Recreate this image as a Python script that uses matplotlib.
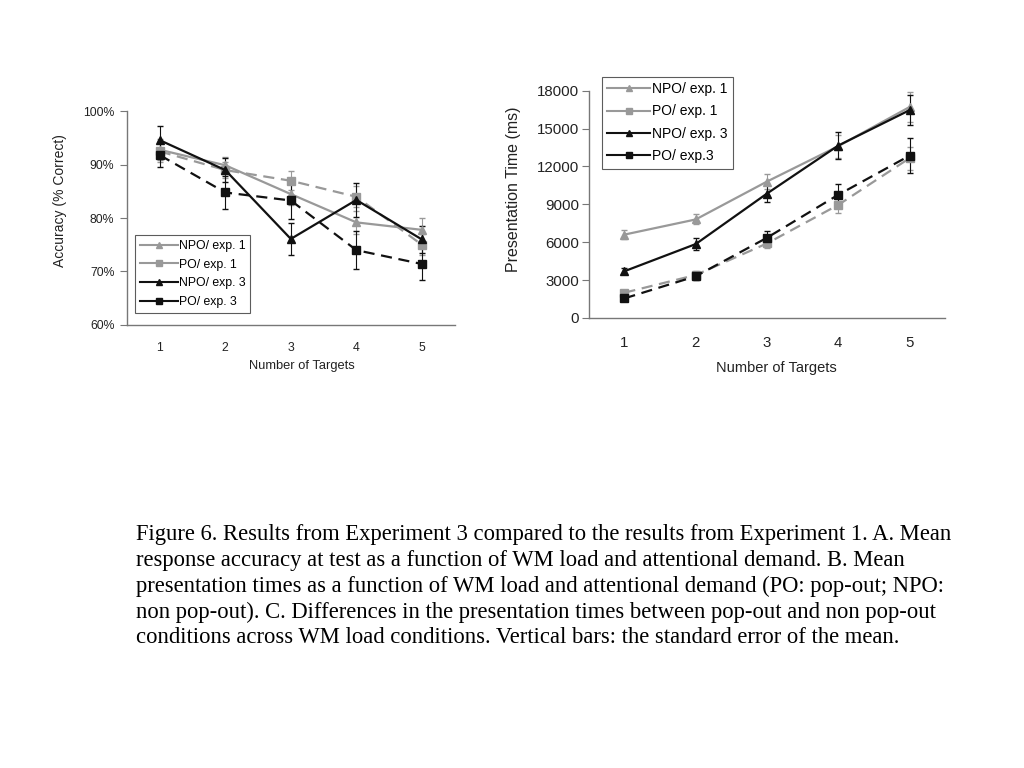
import matplotlib.pyplot as plt
from matplotlib.lines import Line2D
import numpy as np

plt.rcParams['font.family'] = ['Liberation Sans', 'DejaVu Sans']

targets = [1, 2, 3, 4, 5]
labels = ["NPO/ exp. 1", "PO/ exp. 1", "NPO/ exp. 3", "PO/ exp. 3"]
labels_b = ["NPO/ exp. 1", "PO/ exp. 1", "NPO/ exp. 3", "PO/ exp.3"]

# accuracy (%)
acc_npo1 = [92.8, 89.9, 84.5, 79.2, 77.8]
acc_po1 = [92.5, 89.0, 87.0, 84.0, 75.0]
acc_npo3 = [94.6, 89.0, 76.1, 83.4, 76.0]
acc_po3 = [91.8, 84.8, 83.3, 74.0, 71.4]
acc_err_npo1 = [2.0, 1.5, 2.0, 2.2, 2.2]
acc_err_po1 = [2.0, 1.5, 1.8, 2.0, 2.0]
acc_err_npo3 = [2.6, 2.2, 3.0, 3.2, 2.5]
acc_err_po3 = [2.3, 3.0, 3.5, 3.5, 3.0]

# presentation time (ms)
pt_npo1 = [6600, 7800, 10800, 13600, 16700]
pt_po1 = [2000, 3400, 5900, 8950, 12650]
pt_npo3 = [3700, 5850, 9850, 13650, 16450]
pt_po3 = [1550, 3300, 6350, 9750, 12850]
pt_err_npo1 = [350, 400, 600, 900, 1200]
pt_err_po1 = [250, 300, 400, 650, 900]
pt_err_npo3 = [250, 450, 650, 1050, 1200]
pt_err_po3 = [200, 300, 550, 850, 1400]

caption = ("Figure 6. Results from Experiment 3 compared to the results from Experiment 1. A. Mean\n"
           "response accuracy at test as a function of WM load and attentional demand. B. Mean\n"
           "presentation times as a function of WM load and attentional demand (PO: pop-out; NPO:\n"
           "non pop-out). C. Differences in the presentation times between pop-out and non pop-out\n"
           "conditions across WM load conditions. Vertical bars: the standard error of the mean.")

gray = '#999999'
dark = '#111111'
styles = [
    dict(color=gray, ls='-', marker='^'),
    dict(color=gray, ls=(0, (5, 3)), marker='s'),
    dict(color=dark, ls='-', marker='^'),
    dict(color=dark, ls=(0, (5, 3)), marker='s'),
]

fig = plt.figure(figsize=(10.24, 7.68), dpi=100)


def style_axes(ax, fs, pad, ypad):
    for s in ['top', 'right']:
        ax.spines[s].set_visible(False)
    for s in ['left', 'bottom']:
        ax.spines[s].set_color('#777777')
        ax.spines[s].set_linewidth(1.0)
    ax.tick_params(axis='y', length=5, pad=ypad, color='#777777', labelsize=fs, colors='#222222')
    ax.tick_params(axis='x', length=0, pad=pad, labelsize=fs, colors='#222222')
    ax.set_xlim(0.5, 5.5)
    ax.set_xticks(targets)


def legend(ax, labs, fs, loc, anchor, spacing):
    handles = [Line2D([0], [0], color=s['color'], ls='-', marker=s['marker'], lw=1.5,
                      markersize=5) for s in styles]
    lg = ax.legend(handles, labs, loc=loc, bbox_to_anchor=anchor, fontsize=fs,
                   frameon=True, fancybox=False, edgecolor='#333333', handlelength=3.1,
                   handletextpad=0.1, borderpad=0.4, labelspacing=spacing,
                   borderaxespad=0)
    lg.get_frame().set_linewidth(0.8)


# panel A
ax1 = fig.add_axes([0.124, 0.577, 0.320, 0.278])
series_a = [(acc_npo1, acc_err_npo1), (acc_po1, acc_err_po1),
            (acc_npo3, acc_err_npo3), (acc_po3, acc_err_po3)]
for (y, e), s in zip(series_a, styles):
    ax1.errorbar(targets, y, yerr=e, color=s['color'], ls=s['ls'], marker=s['marker'],
                 markersize=6, lw=1.6, elinewidth=0.8, capsize=2.5, ecolor=s['color'])
style_axes(ax1, 8.8, 12, 4)
ax1.set_ylim(60, 100)
ax1.set_yticks([60, 70, 80, 90, 100])
ax1.set_yticklabels([f"{v}%" for v in [60, 70, 80, 90, 100]])
ax1.set_xlabel("Number of Targets", fontsize=9.3, color='#222222')
ax1.set_ylabel("Accuracy (% Correct)", fontsize=10, color='#222222')
ax1.xaxis.set_label_coords(0.534, -0.165)
ax1.yaxis.set_label_coords(-0.184, 0.58)
legend(ax1, labels, 8.8, 'lower left', (0.024, 0.056), 0.55)

# panel B
ax2 = fig.add_axes([0.575, 0.586, 0.348, 0.296])
series_b = [(pt_npo1, pt_err_npo1), (pt_po1, pt_err_po1),
            (pt_npo3, pt_err_npo3), (pt_po3, pt_err_po3)]
for (y, e), s in zip(series_b, styles):
    ax2.errorbar(targets, y, yerr=e, color=s['color'], ls=s['ls'], marker=s['marker'],
                 markersize=6, lw=1.6, elinewidth=0.8, capsize=2.5, ecolor=s['color'])
style_axes(ax2, 10.8, 13, 2)
ax2.set_ylim(0, 18000)
ax2.set_yticks(np.arange(0, 18001, 3000))
ax2.set_xlabel("Number of Targets", fontsize=10.5, color='#222222')
ax2.set_ylabel("Presentation Time (ms)", fontsize=11.5, color='#222222')
ax2.xaxis.set_label_coords(0.525, -0.19)
ax2.yaxis.set_label_coords(-0.19, 0.564)
legend(ax2, labels_b, 10, 'upper left', (0.036, 1.062), 0.6)

fig.text(0.133, 0.318, caption, fontsize=16.3, family=['Liberation Serif', 'DejaVu Serif'],
         va='top', ha='left', linespacing=1.3)

fig.savefig("out.png", dpi=100)
